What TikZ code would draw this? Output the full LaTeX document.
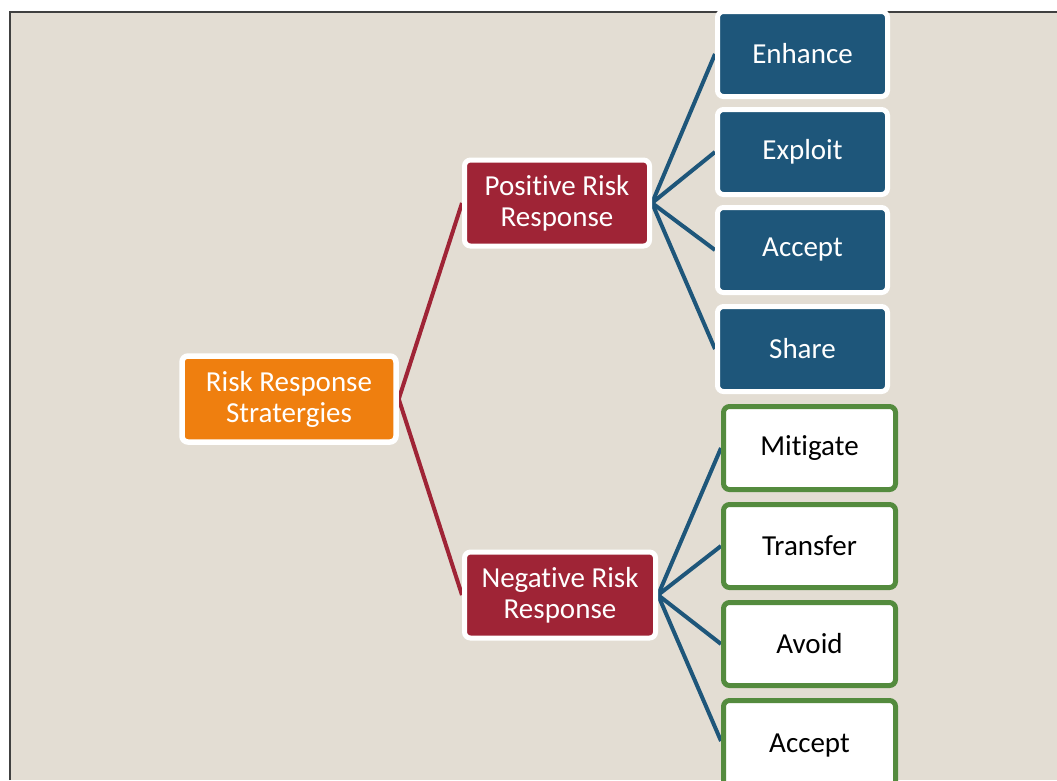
\documentclass[tikz,border=0pt]{standalone}
\usepackage{fontspec}
\setmainfont[RawFeature={-liga;-clig;-calt;-dlig}]{Carlito}
\definecolor{bgc}{HTML}{E3DDD3}
\definecolor{framec}{HTML}{404040}
\definecolor{orangec}{HTML}{EF7F0F}
\definecolor{crimsonc}{HTML}{9F2436}
\definecolor{bluec}{HTML}{1E567A}
\definecolor{greenc}{HTML}{548B3E}
\pgfdeclarelayer{bg}
\pgfdeclarelayer{edges}
\pgfsetlayers{bg,edges,main}
\newcommand{\nolig}{\kern0pt }
\tikzset{
  boxbase/.style={rounded corners=6pt, inner sep=0pt, align=center,
    font=\fontsize{29}{31}\selectfont},
  rootbox/.style={boxbase, fill=orangec, draw=white, line width=5.5pt, text=white,
    minimum width=214pt, minimum height=86pt},
  midbox/.style={boxbase, fill=crimsonc, draw=white, line width=5pt, text=white,
    minimum height=86pt},
  bluebox/.style={boxbase, fill=bluec, draw=white, line width=5pt, text=white,
    minimum width=170pt, minimum height=85pt},
  greenbox/.style={boxbase, fill=white, draw=greenc, line width=5pt, text=black,
    minimum width=172pt, minimum height=83pt},
  redline/.style={draw=crimsonc, line width=4pt},
  blueline/.style={draw=bluec, line width=4pt}
}
\begin{document}
\begin{tikzpicture}[x=1pt,y=-1pt]
\useasboundingbox (0,0) rectangle (1057,780);
\begin{pgfonlayer}{bg}
\fill[white] (0,0) rectangle (1057,780);
\fill[bgc] (10,12) rectangle (1057,780);
\draw[framec, line width=2.5pt] (10,780) -- (10,12) -- (1057,12);
\end{pgfonlayer}

\node[rootbox] (root) at (289,399) {Risk Response\\Stratergies};
\node[midbox, minimum width=185pt] (pos) at (557,203) {Posit\nolig ive Risk\\Response};
\node[midbox, minimum width=191pt] (neg) at (560,595) {Negat\nolig ive Risk\\Response};

\node[bluebox] (enh) at (802.5,54) {Enhance};
\node[bluebox] (exp) at (802.5,152) {Exploit};
\node[bluebox] (acp) at (802.5,250) {Accept};
\node[bluebox] (shr) at (802.5,349) {Share};

\node[greenbox] (mit) at (809.5,448) {Mit\nolig igate};
\node[greenbox] (trn) at (809.5,546) {Transfer};
\node[greenbox] (avd) at (809.5,644) {Avoid};
\node[greenbox, minimum height=99pt] (acn) at (809.5,750) {\raisebox{14pt}{Accept}};

\begin{pgfonlayer}{edges}
\draw[redline] (root.east) -- (pos.west);
\draw[redline] (root.east) -- (neg.west);
\foreach \t in {enh,exp,acp,shr} \draw[blueline] (pos.east) -- (\t.west);
\draw[blueline] (neg.east) -- (mit.west);
\draw[blueline] (neg.east) -- (trn.west);
\draw[blueline] (neg.east) -- (avd.west);
\draw[blueline] (neg.east) -- ([yshift=9pt]acn.west);
\end{pgfonlayer}
\end{tikzpicture}
\end{document}
